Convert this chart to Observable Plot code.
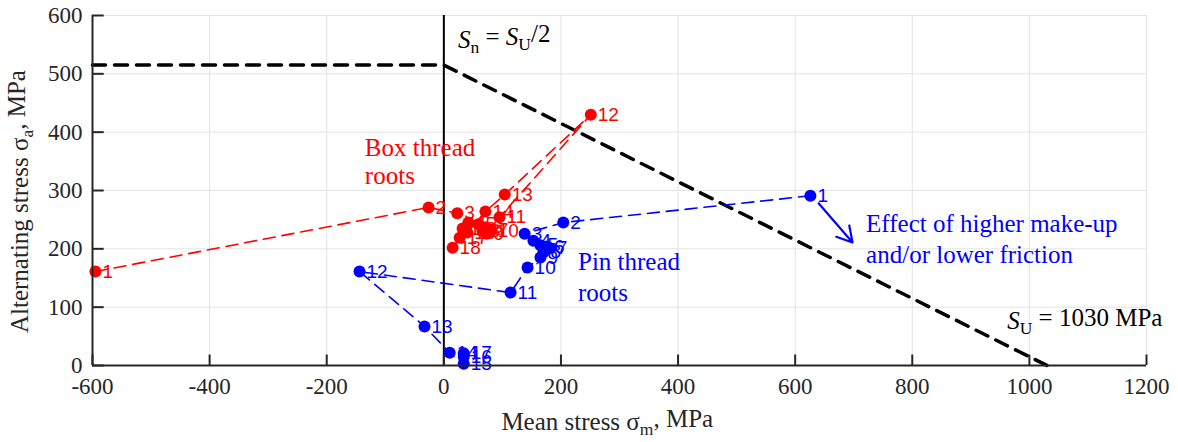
<!DOCTYPE html>
<html>
<head>
<meta charset="utf-8">
<script src="https://cdn.jsdelivr.net/npm/d3@7"></script>
<script src="https://cdn.jsdelivr.net/npm/@observablehq/plot@0.6"></script>
<style>
  body { margin: 0; background: #fff; }
  #chart svg { display: block; }
</style>
</head>
<body>
<div id="chart"></div>
<script>
// ---- data ----
const xTicks = [-600, -400, -200, 0, 200, 400, 600, 800, 1000, 1200];
const yTicks = [0, 100, 200, 300, 400, 500, 600];

const boxIds = [1,2,3,4,5,6,7,8,9,10,11,12,13,14,15,16,17,18];
const boxMean = [-595, -26, 23, 42, 59, 71, 80, 66, 73, 80, 95, 251, 104, 71, 40, 32, 27, 15];
const boxAlt  = [161, 271, 261, 245, 242, 237, 233, 230, 226, 230, 254, 430, 293, 264, 228, 235, 219, 202];

const pinIds = [1,2,3,4,5,6,7,8,9,10,11,12,13,14,15,16,17];
const pinMean = [626, 204, 138, 153, 165, 176, 181, 170, 165, 143, 114, -144, -33, 10, 34, 34, 34];
const pinAlt  = [291, 245, 226, 214, 206, 204, 201, 194, 185, 168, 125, 161, 67, 22, 3, 15, 21];

const goodmanMean = [-600, 0, 1030];
const goodmanAlt  = [515, 515, 0];

const arrowFrom = [640, 278];
const arrowTo   = [698, 211];

const box = boxIds.map((id, i) => ({id, x: boxMean[i], y: boxAlt[i]}));
const pin = pinIds.map((id, i) => ({id, x: pinMean[i], y: pinAlt[i]}));
const goodman = goodmanMean.map((x, i) => ({x, y: goodmanAlt[i]}));

const RED = "#ff0000", BLUE = "#0000ff";
const serif = "'Liberation Serif', 'Times New Roman', serif";
const sans = "'Liberation Sans', Arial, sans-serif";
const AX = "#262626";

const plot = Plot.plot({
  width: 1178,
  height: 442,
  marginTop: 15,
  marginRight: 32,
  marginBottom: 77,
  marginLeft: 92,
  x: {domain: [-600, 1200], axis: null},
  y: {domain: [0, 600], axis: null},
  style: {fontFamily: serif, background: "white"},
  marks: [
    Plot.ruleX(xTicks, {stroke: "#e3e3e3", strokeWidth: 1}),
    Plot.ruleY(yTicks, {stroke: "#e3e3e3", strokeWidth: 1}),
    Plot.line(goodman, {x: "x", y: "y", stroke: "black", strokeWidth: 3.5, strokeDasharray: "13,9"}),
    Plot.ruleX([0], {stroke: "black", strokeWidth: 2}),
    Plot.line(box, {x: "x", y: "y", stroke: RED, strokeWidth: 1.6, strokeDasharray: "12,7"}),
    Plot.line(pin, {x: "x", y: "y", stroke: BLUE, strokeWidth: 1.6, strokeDasharray: "12,7"}),
    Plot.dot(box, {x: "x", y: "y", r: 6, fill: RED}),
    Plot.dot(pin, {x: "x", y: "y", r: 6, fill: BLUE}),
    Plot.text(box, {x: "x", y: "y", text: d => String(d.id), dx: 7, textAnchor: "start", fill: RED, fontSize: 19, fontFamily: sans, className: "numlab"}),
    Plot.text(pin, {x: "x", y: "y", text: d => String(d.id), dx: 7, textAnchor: "start", fill: BLUE, fontSize: 19, fontFamily: sans, className: "numlab"}),
    Plot.arrow([{x1: arrowFrom[0], y1: arrowFrom[1], x2: arrowTo[0], y2: arrowTo[1]}], {x1: "x1", y1: "y1", x2: "x2", y2: "y2", stroke: BLUE, strokeWidth: 2.2, headLength: 14}),
    Plot.ruleY([0], {stroke: AX, strokeWidth: 2}),
    Plot.ruleX([-600], {stroke: AX, strokeWidth: 2}),
    Plot.ruleX(xTicks, {y1: 0, y2: 18, stroke: AX, strokeWidth: 2}),
    Plot.ruleY(yTicks, {x1: -600, x2: -580, stroke: AX, strokeWidth: 2}),
    // tick labels
    Plot.text(xTicks, {x: d => d, y: 0, dy: 21, text: d => String(d), fill: AX, fontSize: 23, fontFamily: serif, textAnchor: "middle", lineAnchor: "middle", className: "ticklab"}),
    Plot.text(yTicks, {x: -600, y: d => d, dx: -10, text: d => String(d), fill: AX, fontSize: 23, fontFamily: serif, textAnchor: "end", lineAnchor: "middle", className: "ticklab"})
  ]
});

document.getElementById("chart").appendChild(plot);

const svg = d3.select(plot);
svg.selectAll(".ticklab, .ticklab text").style("font-family", serif).style("font-size", "23px");
svg.selectAll(".numlab, .numlab text").style("font-family", sans).style("font-size", "19px");

// annotation text (with subscripts / italics) placed through the plot's scales
const sx = plot.scale("x"), sy = plot.scale("y");

function rich(parts, x, y, opts = {}) {
  const t = svg.append("text")
    .attr("x", x).attr("y", y)
    .style("font-family", serif)
    .style("font-size", (opts.size || 20) + "px")
    .attr("fill", opts.fill || AX)
    .attr("text-anchor", opts.anchor || "start")
    .attr("dominant-baseline", "middle");
  if (opts.rotate) t.attr("transform", `rotate(-90, ${x}, ${y})`);
  parts.forEach(p => {
    const s = t.append("tspan").text(p.t);
    if (p.i) s.style("font-style", "italic");
    if (p.sub) s.style("font-size", "70%").attr("dy", "0.4em");
    if (p.up) s.attr("dy", "-0.4em");
  });
}

function lines(textLines, x, y, gap, fill, size) {
  textLines.forEach((l, k) => rich([{t: l}], sx.apply(x), sy.apply(y) + k * gap, {fill, size}));
}

lines(["Box thread", "roots"], -134, 369, 28, RED, 25);
lines(["Pin thread", "roots"], 230, 173, 31, BLUE, 25);
lines(["Effect of higher make-up", "and/or lower friction"], 722, 238, 31, BLUE, 25);

rich([{t: "S", i: true}, {t: "n", sub: true}, {t: " = ", up: true}, {t: "S", i: true}, {t: "U", sub: true}, {t: "/2", up: true}],
     sx.apply(25), sy.apply(553), {fill: "black", size: 25});
rich([{t: "S", i: true}, {t: "U", sub: true}, {t: " = 1030 MPa", up: true}],
     sx.apply(963), sy.apply(72), {fill: "black", size: 25});
rich([{t: "Mean stress σ"}, {t: "m", sub: true}, {t: ", MPa", up: true}],
     sx.apply(280), 424, {anchor: "middle", size: 25});
rich([{t: "Alternating stress σ"}, {t: "a", sub: true}, {t: ", MPa", up: true}],
     22, 333, {anchor: "start", size: 25, rotate: true});
</script>
</body>
</html>
